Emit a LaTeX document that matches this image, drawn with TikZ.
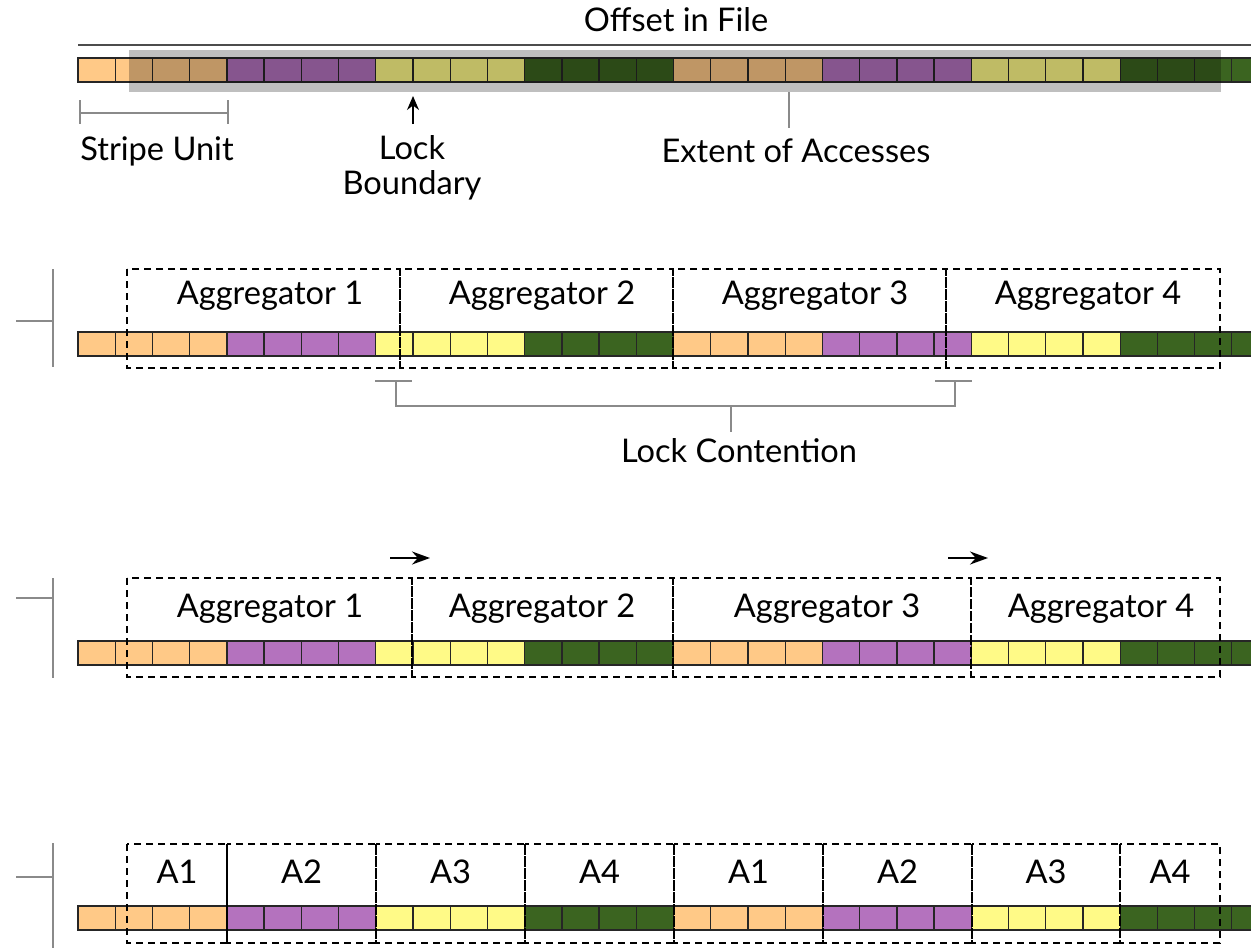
\documentclass[tikz,border=0pt]{standalone}
\usepackage{fontspec}
\setmainfont{Lato}
\usetikzlibrary{arrows.meta,positioning}
\definecolor{suOrange}{HTML}{FFC987}
\definecolor{suPurple}{HTML}{B472BE}
\definecolor{suYellow}{HTML}{FFFA87}
\definecolor{suGreen}{HTML}{3B6420}
\definecolor{guide}{HTML}{8A8A8A}
\tikzset{%
  cell/.style={draw=black!85, line width=0.65pt},
  aggbox/.style={draw, line width=1.4pt, dash pattern=on 3.6pt off 2.4pt},
  guideline/.style={draw=guide, line width=0.75pt},
  label/.style={font=\fontsize{16.3}{17.5}\selectfont, inner sep=0pt},
  pointer/.style={draw, line width=0.8pt, -{Stealth[length=7pt,width=6pt]}},
  mover/.style={draw, line width=0.9pt, -{Stealth[length=9pt,width=6.5pt]}},
}
% one row of 32 stripe cells, #1 = top edge
\newcommand{\stripebar}[1]{%
  \foreach \i in {0,...,31}{
    \pgfmathtruncatemacro{\grp}{mod(floor(\i/4),4)}
    \ifcase\grp \def\cc{suOrange}\or \def\cc{suPurple}\or \def\cc{suYellow}\or \def\cc{suGreen}\fi
    \draw[cell, fill=\cc] (78+\i*37.22,#1) rectangle ++(37.22,24);
  }}

\begin{document}
\begin{tikzpicture}[x=0.5pt, y=-0.5pt]
  \useasboundingbox (0,0) rectangle (1251,948);
  \clip (0,0) rectangle (1251,948);

  % row 1: file layout
  \node[label] (offset) at (676,20) {Offset in File};
  \draw[line width=0.75pt, black!70] (78,45) -- (1251,45);
  \stripebar{58}
  \fill[black, opacity=0.25] (129,50) rectangle (1221,92);
  \draw[guideline] (80,100) -- (80,124) (80,113) -- (228,113) (228,100) -- (228,124);
  \node[label] (stripe) at (157,151) {Stripe Unit};
  \node[label, align=center] (lockb) at (412,168) {Lock\\Boundary};
  \coordinate (lbtip) at (413,96);
  \coordinate (lbtail) at (413,124);
  \path[pointer] (lbtail) -- (lbtip);
  \node[label] (extent) at (796,151) {Extent of Accesses};
  \coordinate (extop) at (789,92);
  \draw[guideline] (extop) -- (789,128);

  % row 2: even domains
  \draw[guideline] (53,269) -- (53,367) (16,321) -- (53,321);
  \stripebar{332}
  \foreach \a/\b in {127/400,400/673,673/946,946/1220}
    \draw[aggbox] (\a,269) rectangle (\b,368);
  \node[label] (ag21) at (270,296) {Aggregator 1};
  \node[label] (ag22) at (542,296) {Aggregator 2};
  \node[label] (ag23) at (815,296) {Aggregator 3};
  \node[label] (ag24) at (1088,296) {Aggregator 4};
  \draw[guideline] (375,381) -- (412,381) (396,381) -- (396,406) -- (955,406) -- (955,381)
    (935,381) -- (972,381) (731,406) -- (731,432);
  \node[label] (contention) at (739,451) {Lock Contention};

  % row 3: domains moved to lock boundaries
  \draw[guideline] (53,578) -- (53,678) (16,598) -- (53,598);
  \stripebar{641}
  \foreach \a/\b in {127/412,412/673,673/971,971/1220}
    \draw[aggbox] (\a,578) rectangle (\b,677);
  \node[label] (ag31) at (270,609) {Aggregator 1};
  \node[label] (ag32) at (542,609) {Aggregator 2};
  \node[label] (ag33) at (827,609) {Aggregator 3};
  \node[label] (ag34) at (1101,609) {Aggregator 4};
  \coordinate (mv1a) at (390,558);
  \coordinate (mv1b) at (430,558);
  \coordinate (mv2a) at (948,558);
  \coordinate (mv2b) at (988,558);
  \path[mover] (mv1a) -- (mv1b);
  \path[mover] (mv2a) -- (mv2b);

  % row 4: cyclic assignment
  \draw[guideline] (53,843) -- (53,948) (16,877) -- (53,877);
  \stripebar{906}
  \foreach \a/\b/\t in {127/227/A1,227/376/A2,376/525/A3,525/674/A4,674/823/A1,823/972/A2,972/1120/A3,1120/1220/A4}{
    \draw[aggbox] (\a,844) rectangle (\b,943);
    \node[label] at ({(\a+\b)/2},872) {\t};
  }
  \draw[line width=1.3pt] (227,844) -- (227,943);
\end{tikzpicture}
\end{document}
